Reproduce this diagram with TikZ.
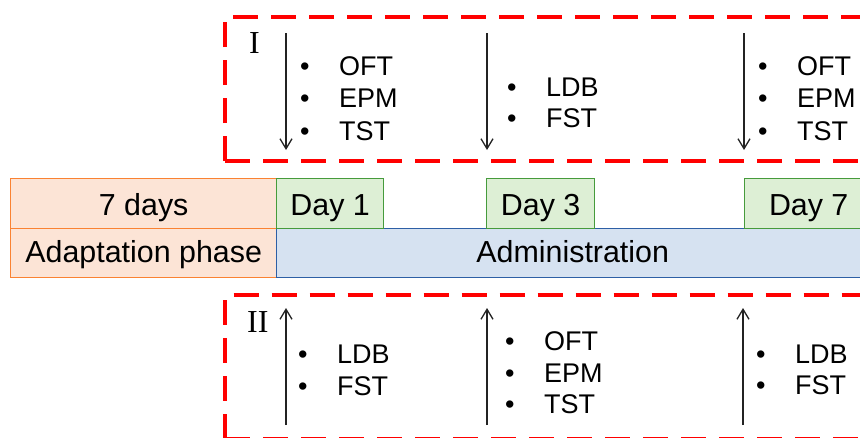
\documentclass[tikz,border=0pt]{standalone}
\usepackage{fontspec}
\setmainfont{Liberation Sans}
\newfontfamily\romanfont{Liberation Serif}
\usetikzlibrary{arrows.meta}

\definecolor{adaptfill}{RGB}{252,228,214}
\definecolor{adaptline}{RGB}{250,130,50}
\definecolor{dayfill}{RGB}{221,239,213}
\definecolor{dayline}{RGB}{70,155,60}
\definecolor{adminfill}{RGB}{214,226,241}
\definecolor{adminline}{RGB}{45,95,165}
\definecolor{groupred}{RGB}{255,0,0}
\definecolor{arrowgray}{RGB}{35,35,35}

\tikzset{
  phase/.style={draw, line width=1.4pt, anchor=north west, inner sep=0pt,
                text depth=0pt, font=\fontsize{30.4}{36}\selectfont},
  adaptbox/.style={phase, draw=adaptline, fill=adaptfill,
                   minimum width=266pt, minimum height=49.5pt},
  daybox/.style={phase, draw=dayline, fill=dayfill, minimum height=50pt,
                 text height=24pt},
  adminbox/.style={phase, draw=adminline, fill=adminfill,
                   minimum width=592pt, minimum height=49pt, text height=19pt},
  groupbox/.style={draw=groupred, line width=4pt, dash pattern=on 25pt off 13pt},
  testarrow/.style={draw=arrowgray, line width=1.3pt,
                    -{Straight Barb[length=10pt,width=12pt]}},
  testitem/.style={anchor=base west, inner sep=0pt,
                   font=\fontsize{27}{32}\selectfont},
  grouplabel/.style={anchor=base west, inner sep=0pt,
                     font=\romanfont\fontsize{32}{36}\selectfont},
}
\newcommand{\bulleted}[1]{\makebox[39pt][l]{\textbullet}#1}

\begin{document}
\begin{tikzpicture}[x=1pt,y=-1pt]
  \useasboundingbox (0,0) rectangle (860,437);
  \clip (0,0) rectangle (860,437);

  % timeline bars
  \node[adaptbox, text height=24pt] (days) at (10,178) {7 days};
  \node[adaptbox, text height=20pt] (adapt) at (10,227.5) {Adaptation phase};
  \node[adminbox] (admin) at (276,228) {Administration};
  \node[daybox, minimum width=107pt] (day1) at (276,178) {Day 1};
  \node[daybox, minimum width=108pt] (day3) at (486,178) {Day 3};
  \node[daybox, minimum width=128pt] (day7) at (744,178) {Day 7};

  % group frames
  \draw[groupbox] (225,161) -- (225,17) -- (900,17);
  \draw[groupbox] (225,161) -- (900,161);
  \draw[groupbox] (225,438.5) -- (225,295) -- (900,295);
  \draw[groupbox] (225,439) -- (900,439);

  \node[grouplabel] (gI) at (249,53) {I};
  \node[grouplabel] (gII) at (247,332) {II};

  % group I: arrows pointing down to the days
  \coordinate (dI1s) at (286,33);  \coordinate (dI1e) at (286,150);
  \coordinate (dI3s) at (487,33);  \coordinate (dI3e) at (487,150);
  \coordinate (dI7s) at (744,33);  \coordinate (dI7e) at (744,150);
  \draw[testarrow] (dI1s) -- (dI1e);
  \draw[testarrow] (dI3s) -- (dI3e);
  \draw[testarrow] (dI7s) -- (dI7e);

  \node[testitem] (i1a) at (300,75) {\bulleted{OFT}};
  \node[testitem] (i1b) at (300,107.5) {\bulleted{EPM}};
  \node[testitem] (i1c) at (300,140) {\bulleted{TST}};
  \node[testitem] (i3a) at (507,96) {\bulleted{LDB}};
  \node[testitem] (i3b) at (507,127) {\bulleted{FST}};
  \node[testitem] (i7a) at (758,75) {\bulleted{OFT}};
  \node[testitem] (i7b) at (758,107.5) {\bulleted{EPM}};
  \node[testitem] (i7c) at (758,140) {\bulleted{TST}};

  % group II: arrows pointing up
  \coordinate (uI1s) at (286,425);  \coordinate (uI1e) at (286,308);
  \coordinate (uI3s) at (487,425);  \coordinate (uI3e) at (487,308);
  \coordinate (uI7s) at (743,425);  \coordinate (uI7e) at (743,308);
  \draw[testarrow] (uI1s) -- (uI1e);
  \draw[testarrow] (uI3s) -- (uI3e);
  \draw[testarrow] (uI7s) -- (uI7e);

  \node[testitem] (j1a) at (298,363) {\bulleted{LDB}};
  \node[testitem] (j1b) at (298,395) {\bulleted{FST}};
  \node[testitem] (j3a) at (505,350) {\bulleted{OFT}};
  \node[testitem] (j3b) at (505,382) {\bulleted{EPM}};
  \node[testitem] (j3c) at (505,413) {\bulleted{TST}};
  \node[testitem] (j7a) at (756,363) {\bulleted{LDB}};
  \node[testitem] (j7b) at (756,394.5) {\bulleted{FST}};
\end{tikzpicture}
\end{document}
